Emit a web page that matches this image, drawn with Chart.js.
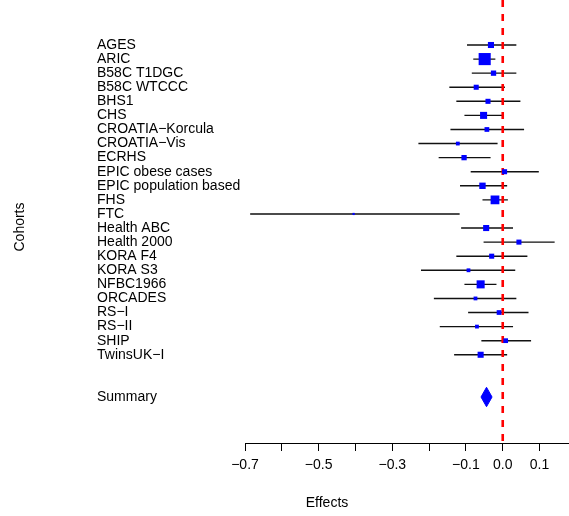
<!DOCTYPE html>
<html>
<head>
<meta charset="utf-8">
<script src="https://cdn.jsdelivr.net/npm/chart.js@4/dist/chart.umd.min.js"></script>
<style>
  body { margin: 0; background: #fff; }
  #wrap { width: 569px; height: 516px; }
</style>
</head>
<body>
<div id="wrap"><canvas id="forest"></canvas></div>
<script>
const cohorts = ['AGES', 'ARIC', 'B58C T1DGC', 'B58C WTCCC', 'BHS1', 'CHS', 'CROATIA\u2212Korcula',
    'CROATIA\u2212Vis', 'ECRHS', 'EPIC obese cases', 'EPIC population based', 'FHS', 'FTC',
    'Health ABC', 'Health 2000', 'KORA F4', 'KORA S3', 'NFBC1966', 'ORCADES', 'RS\u2212I', 'RS\u2212II',
    'SHIP', 'TwinsUK\u2212I'];
const effects = [-0.032, -0.049, -0.025, -0.072, -0.040, -0.052, -0.043, -0.122, -0.105, 0.005, -0.055,
    -0.021, -0.405, -0.045, 0.044, -0.030, -0.093, -0.060, -0.074, -0.010, -0.070, 0.008, -0.060];
const lower = [-0.097, -0.080, -0.084, -0.145, -0.126, -0.104, -0.142, -0.229, -0.174, -0.087, -0.116,
    -0.055, -0.686, -0.113, -0.052, -0.126, -0.222, -0.104, -0.187, -0.094, -0.171, -0.058, -0.132];
const upper = [0.037, -0.020, 0.037, 0.006, 0.048, -0.002, 0.058, -0.014, -0.033, 0.098, 0.012,
    0.014, -0.117, 0.028, 0.141, 0.067, 0.034, -0.017, 0.037, 0.070, 0.028, 0.077, 0.012];
const weights = [4.6, 18.3, 3.5, 3.2, 3.2, 6.2, 2.8, 1.8, 3.5, 3.2, 5.1, 9.6, 0.6, 4.6, 3.2, 3.2, 1.8,
    8.1, 1.8, 2.8, 1.8, 2.8, 4.6];
const summaryLabel = 'Summary';
const summary = { est: -0.044, lo: -0.059, hi: -0.029 };
const xTicks = [-0.7, -0.6, -0.5, -0.4, -0.3, -0.2, -0.1, 0.0, 0.1];
const xTickLabels = [-0.7, -0.5, -0.3, -0.1, 0.0, 0.1];

const summaryRow = cohorts.length + 3;
const font = { family: '"Liberation Sans", Arial, sans-serif', size: 14 };

// row index -> label
const rowLabels = {};
cohorts.forEach((c, i) => { rowLabels[i + 1] = c; });
rowLabels[summaryRow] = summaryLabel;

const bars = [];
cohorts.forEach((c, i) => {
    bars.push({ x: lower[i], y: i + 1 });
    bars.push({ x: upper[i], y: i + 1 });
    bars.push({ x: null, y: null });
});

const points = effects.map((e, i) => ({ x: e, y: i + 1 }));

const halfH = 0.69;
const diamond = [
    { x: summary.lo, y: summaryRow },
    { x: summary.est, y: summaryRow - halfH },
    { x: summary.hi, y: summaryRow },
    { x: summary.est, y: summaryRow + halfH },
    { x: summary.lo, y: summaryRow }
];

const xMin = -0.7, xMax = 0.18;
const yMin = -2.196, yMax = 29.267;

const axisTitles = {
    id: 'axisTitles',
    afterDraw(chart) {
        const ctx = chart.ctx;
        ctx.save();
        ctx.fillStyle = '#000';
        ctx.font = '14px "Liberation Sans", Arial, sans-serif';
        ctx.textAlign = 'center';
        ctx.textBaseline = 'middle';
        ctx.fillText('Effects', 327, 503);
        ctx.translate(20, 227);
        ctx.rotate(-Math.PI / 2);
        ctx.fillText('Cohorts', 0, 0);
        ctx.restore();
    }
};

new Chart(document.getElementById('forest'), {
    type: 'scatter',
    data: {
        datasets: [
            {
                label: 'effect',
                data: points,
                pointStyle: 'rect',
                pointRadius: ctx => 2 * Math.sqrt(weights[ctx.dataIndex] || 0),
                pointHoverRadius: ctx => 2 * Math.sqrt(weights[ctx.dataIndex] || 0),
                backgroundColor: '#0000FF',
                borderWidth: 0,
                showLine: false
            },
            {
                label: 'zero',
                data: [{ x: 0, y: yMin }, { x: 0, y: yMax }],
                showLine: true,
                borderColor: '#FF0000',
                borderWidth: 2.6,
                borderDash: [7, 7],
                pointRadius: 0
            },
            {
                label: 'summary',
                data: diamond,
                showLine: true,
                fill: 'shape',
                backgroundColor: '#0000FF',
                borderColor: '#0000FF',
                borderWidth: 1,
                pointRadius: 0,
                tension: 0
            },
            {
                label: 'ci',
                data: bars,
                showLine: true,
                spanGaps: false,
                borderColor: '#111',
                borderWidth: 1.4,
                pointRadius: 0
            }
        ]
    },
    options: {
        responsive: true,
        maintainAspectRatio: false,
        animation: false,
        layout: { autoPadding: false, padding: { left: 97, top: 0, right: 0, bottom: 0 } },
        plugins: {
            legend: { display: false },
            tooltip: { enabled: false }
        },
        scales: {
            x: {
                type: 'linear',
                min: xMin,
                max: xMax,
                afterBuildTicks: scale => { scale.ticks = xTicks.map(v => ({ value: v })); },
                afterFit: scale => { scale.height = 73; },
                grid: { drawOnChartArea: false, drawTicks: true, tickLength: 8, color: '#000' },
                border: { display: true, color: '#000', width: 1 },
                ticks: {
                    autoSkip: false,
                    maxRotation: 0,
                    padding: 6,
                    color: '#000',
                    font: font,
                    callback: v => {
                        const hit = xTickLabels.find(t => Math.abs(t - v) < 1e-9);
                        if (hit === undefined) return '';
                        return (hit < 0 ? '\u2212' : '') + Math.abs(hit).toFixed(1);
                    }
                }
            },
            y: {
                type: 'linear',
                reverse: true,
                min: yMin,
                max: yMax,
                afterBuildTicks: scale => {
                    scale.ticks = Object.keys(rowLabels).map(k => ({ value: Number(k) }));
                },
                afterFit: scale => {
                    scale.width = 148;
                    scale.paddingTop = 0;
                    scale.paddingBottom = 0;
                },
                grid: { display: false },
                border: { display: false },
                ticks: {
                    autoSkip: false,
                    crossAlign: 'far',
                    color: '#000',
                    font: font,
                    callback: v => rowLabels[v] || ''
                }
            }
        }
    },
    plugins: [axisTitles]
});
</script>
</body>
</html>
